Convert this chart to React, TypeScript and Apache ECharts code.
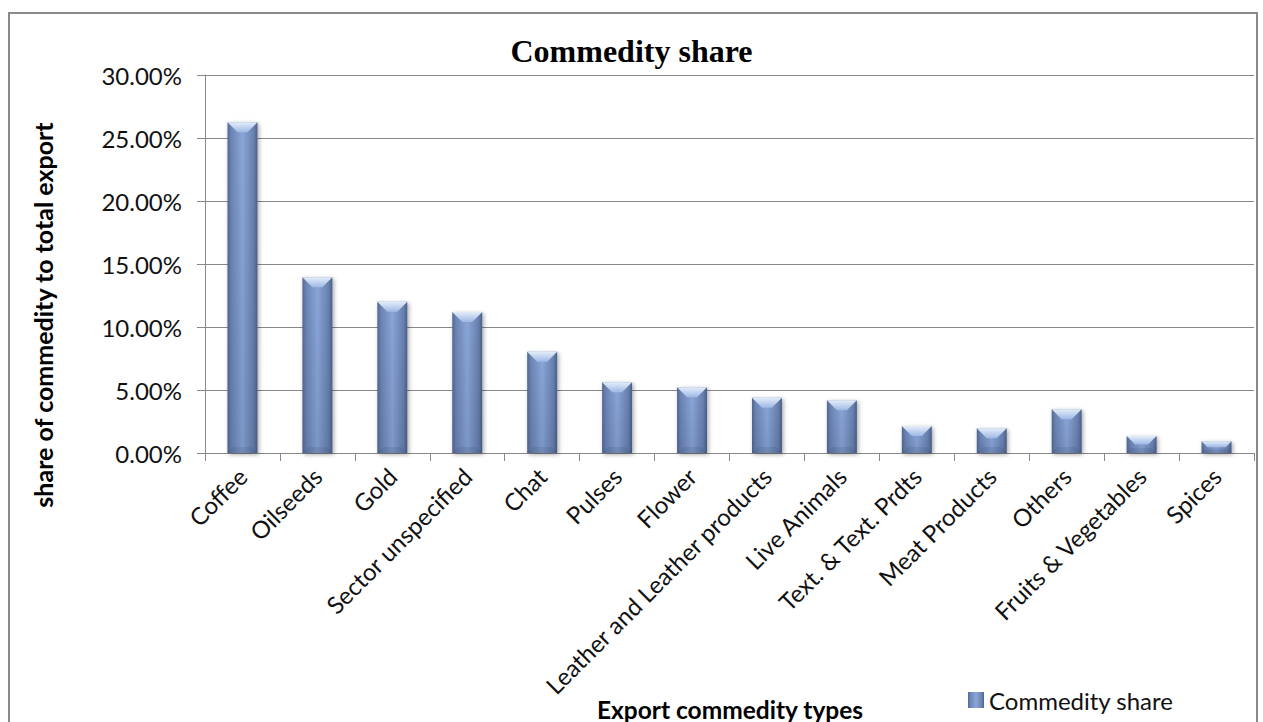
import React, { useEffect, useRef } from "react";
import * as echarts from "echarts";

const categories = [
  "Coffee",
  "Oilseeds",
  "Gold",
  "Sector unspecified",
  "Chat",
  "Pulses",
  "Flower",
  "Leather and Leather products",
  "Live Animals",
  "Text. & Text. Prdts",
  "Meat Products",
  "Others",
  "Fruits & Vegetables",
  "Spices",
];
const shares = [26.25, 13.94, 12.0, 11.2, 8.04, 5.61, 5.21, 4.39, 4.18, 2.14, 1.96, 3.47, 1.35, 0.93];
const yTicks = { min: 0, max: 30, interval: 5 };
const seriesName = "Commedity share";
const titleText = "Commedity share";
const yAxisTitle = "share of commedity to total export";
const xAxisTitle = "Export commedity types";

const SANS = "Lato, 'Noto Sans', sans-serif";

export default function App() {
  const ref = useRef<HTMLDivElement>(null);
  useEffect(() => {
    if (!ref.current) return;
    const chart = echarts.init(ref.current, null, { renderer: "svg" });
    const barGrad = new echarts.graphic.LinearGradient(1, 0, 0, 0, [
      { offset: 0, color: "#4a5e86" },
      { offset: 0.12, color: "#6880ae" },
      { offset: 0.5, color: "#8aa7d8" },
      { offset: 0.88, color: "#6b84b4" },
      { offset: 1, color: "#52678f" },
    ]);
    chart.setOption({
      animation: false,
      backgroundColor: "#ffffff",
      title: {
        text: titleText,
        left: "center",
        top: 35,
        padding: 0,
        textStyle: { fontFamily: "'Liberation Serif', 'Times New Roman', serif", fontWeight: "bold", fontSize: 32, color: "#000" },
      },
      legend: {
        data: [{ name: seriesName, icon: "rect" }],
        left: 963,
        top: 683,
        itemWidth: 16,
        itemHeight: 16,
        textStyle: { fontFamily: SANS, fontSize: 24, color: "#111" },
      },
      grid: { left: 205, right: 9, top: 75, bottom: 269, containLabel: false },
      xAxis: {
        type: "category",
        data: categories,
        axisLine: { lineStyle: { color: "#888", width: 1 } },
        axisTick: { show: true, length: 8, lineStyle: { color: "#888" } },
        axisLabel: { rotate: 45, margin: 19, interval: 0, fontFamily: SANS, fontSize: 24, color: "#111" },
      },
      yAxis: {
        type: "value",
        min: yTicks.min,
        max: yTicks.max,
        interval: yTicks.interval,
        axisLine: { show: true, lineStyle: { color: "#888", width: 1 } },
        axisTick: { show: true, length: 8, lineStyle: { color: "#888" } },
        splitLine: { lineStyle: { color: "#888", width: 1 } },
        axisLabel: { margin: 23, fontFamily: SANS, fontSize: 24, color: "#111", formatter: (v: number) => v.toFixed(2) + "%" },
      },
      graphic: [
        {
          type: "rect",
          shape: { x: 9, y: 13, width: 1248, height: 730 },
          style: { fill: "none", stroke: "#8a8a8a", lineWidth: 2 },
          silent: true,
        },
        {
          type: "text",
          x: 43,
          y: 315,
          rotation: Math.PI / 2,
          style: {
            text: yAxisTitle,
            fill: "#000",
            font: `bold 25px ${SANS}`,
            textAlign: "center",
            textVerticalAlign: "middle",
          },
        },
        {
          type: "text",
          x: 730,
          y: 709,
          style: {
            text: xAxisTitle,
            fill: "#000",
            font: `bold 24.5px ${SANS}`,
            textAlign: "center",
            textVerticalAlign: "middle",
          },
        },
      ],
      series: [
        {
          name: seriesName,
          type: "bar",
          data: shares,
          barWidth: "40%",
          itemStyle: {
            color: barGrad,
            shadowColor: "rgba(0,0,0,0.35)",
            shadowBlur: 4,
            shadowOffsetX: 1.5,
            shadowOffsetY: 1.5,
          },
        },
        {
          name: "bevel",
          type: "custom",
          data: shares.map((v, i) => [i, v]),
          encode: { x: 0, y: 1 },
          silent: true,
          z: 3,
          renderItem: (params: any, api: any) => {
            const idx = api.value(0);
            const val = api.value(1);
            const top = api.coord([idx, val]);
            const base = api.coord([idx, 0]);
            const w = api.size([1, 0])[0] * 0.4;
            const x0 = top[0] - w / 2;
            const x1 = top[0] + w / 2;
            const y0 = top[1];
            const yb = base[1];
            const h = Math.min(10, (yb - y0) / 2);
            return {
              type: "group",
              children: [
                {
                  type: "rect",
                  shape: { x: x0, y: y0, width: w, height: yb - y0 },
                  style: {
                    fill: new echarts.graphic.LinearGradient(0, 0, 0, 1, [
                      { offset: 0, color: "rgba(20,30,60,0)" },
                      { offset: 1, color: "rgba(20,30,60,0.12)" },
                    ]),
                  },
                },
                {
                  type: "polygon",
                  shape: { points: [[x0, y0], [x1, y0], [x1 - h, y0 + h], [x0 + h, y0 + h]] },
                  style: {
                    fill: new echarts.graphic.LinearGradient(0, 0, 0, 1, [
                      { offset: 0, color: "#e4edfa" },
                      { offset: 1, color: "#9db8e4" },
                    ]),
                  },
                },
                {
                  type: "polygon",
                  shape: { points: [[x0, yb], [x1, yb], [x1 - h * 0.6, yb - h * 0.6], [x0 + h * 0.6, yb - h * 0.6]] },
                  style: { fill: "rgba(40,55,90,0.12)" },
                },
              ],
            };
          },
        },
      ],
    });
    return () => chart.dispose();
  }, []);
  return <div ref={ref} style={{ position: "fixed", left: 0, top: 0, width: 1263, height: 722 }} />;
}
